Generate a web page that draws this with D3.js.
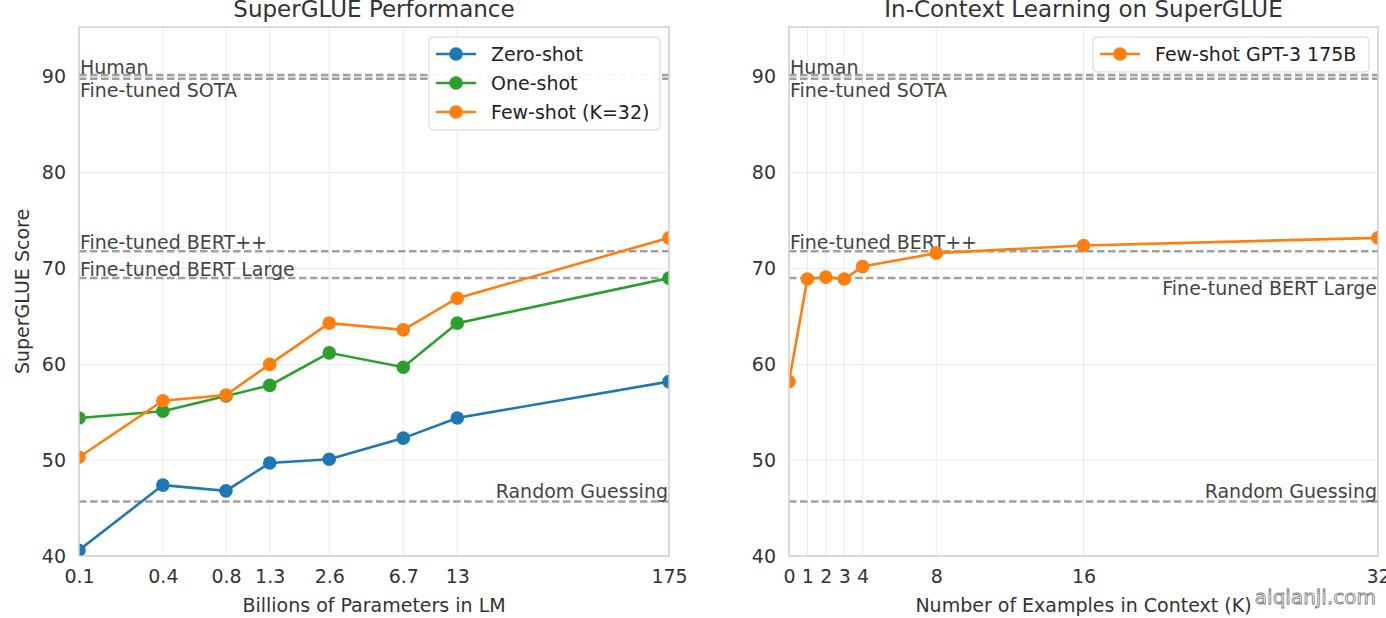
<!DOCTYPE html>
<html>
<head>
<meta charset="utf-8">
<script src="https://cdn.jsdelivr.net/npm/d3@7"></script>
<style>
  body { margin: 0; background: #fff; }
  svg { font-family: "DejaVu Sans", sans-serif; }
  .grid line { stroke: #ebebeb; stroke-width: 1; }
  .tick text { fill: #333; font-size: 19px; }
</style>
</head>
<body>
<div id="container"></div>
<script>
// data
const params = [0.125, 0.35, 0.76, 1.3, 2.7, 6.7, 13, 175];
const paramLabels = ["0.1", "0.4", "0.8", "1.3", "2.6", "6.7", "13", "175"];
const zeroShot = [40.6, 47.4, 46.8, 49.7, 50.1, 52.3, 54.4, 58.2];
const oneShot = [54.4, 55.1, 56.7, 57.8, 61.2, 59.7, 64.3, 69.0];
const fewShot = [50.3, 56.2, 56.8, 60.0, 64.3, 63.6, 66.9, 73.2];

const kShots = [0, 1, 2, 3, 4, 8, 16, 32];
const kScores = [58.2, 68.9, 69.1, 68.9, 70.2, 71.6, 72.4, 73.2];

const yTicks = [40, 50, 60, 70, 80, 90];
const refNames = ["Human", "Fine-tuned SOTA", "Fine-tuned BERT++", "Fine-tuned BERT Large", "Random Guessing"];
const refValues = [90.2, 89.8, 71.8, 69.0, 45.7];

const seriesNames = ["Zero-shot", "One-shot", "Few-shot (K=32)"];
const colors = ["#1f77b4", "#2ca02c", "#ff7f0e"];

// layout
const svgWidth = 1386, svgHeight = 618;
const plotTop = 27, plotBottom = 556;

const svg = d3.select("#container").append("svg")
  .attr("width", svgWidth).attr("height", svgHeight);

const y = d3.scaleLinear().domain([40, 95.2]).range([plotBottom, plotTop]);

function drawPanel(opts) {
  const x = opts.x;
  const [x0, x1] = x.range();
  const g = svg.append("g");

  // clip for marks
  svg.append("clipPath").attr("id", opts.id)
    .append("rect").attr("x", x0).attr("y", plotTop).attr("width", x1 - x0).attr("height", plotBottom - plotTop);

  // grid
  const grid = g.append("g").classed("grid", true);
  grid.selectAll(".v").data(opts.xTicks).enter().append("line")
    .attr("x1", d => x(d)).attr("x2", d => x(d)).attr("y1", plotTop).attr("y2", plotBottom);
  grid.selectAll(".h").data(yTicks).enter().append("line")
    .attr("x1", x0).attr("x2", x1).attr("y1", d => y(d)).attr("y2", d => y(d));

  // axes (labels only)
  const xAxis = d3.axisBottom(x).tickValues(opts.xTicks).tickSize(0).tickPadding(14)
    .tickFormat((d, i) => opts.xLabels[i]);
  g.append("g").attr("transform", `translate(0,${plotBottom})`).call(xAxis)
    .call(a => a.select(".domain").remove());
  const yAxis = d3.axisLeft(y).tickValues(yTicks).tickSize(0).tickPadding(13);
  g.append("g").attr("transform", `translate(${x0},0)`).call(yAxis)
    .call(a => a.select(".domain").remove());
  g.selectAll(".tick text").attr("font-family", "DejaVu Sans");

  // reference lines
  const refs = g.append("g");
  refs.selectAll("line").data(refValues).enter().append("line")
    .attr("x1", x0).attr("x2", x1)
    .attr("y1", d => y(d)).attr("y2", d => y(d))
    .attr("stroke", "#a0a0a0").attr("stroke-width", 2.5).attr("stroke-dasharray", "7.5,3.5");
  refs.selectAll("text").data(refNames).enter().append("text")
    .attr("x", (d, i) => opts.refAnchor[i] === "end" ? x1 - 1 : x0 + 1)
    .attr("y", (d, i) => y(refValues[i]) + opts.refDy[i])
    .attr("text-anchor", (d, i) => opts.refAnchor[i])
    .attr("fill", "#444").attr("font-size", 19)
    .text(d => d);

  // series
  const marks = g.append("g").attr("clip-path", `url(#${opts.id})`);
  const line = d3.line().x(d => x(d[0])).y(d => y(d[1]));
  opts.series.forEach((s, si) => {
    const pts = opts.xs.map((v, i) => [v, s.values[i]]);
    marks.append("path").attr("d", line(pts))
      .attr("fill", "none").attr("stroke", s.color).attr("stroke-width", 2.6);
    marks.selectAll(null).data(pts).enter().append("circle")
      .attr("cx", d => x(d[0])).attr("cy", d => y(d[1])).attr("r", 6.8)
      .attr("fill", s.color);
  });

  // frame
  g.append("rect").attr("x", x0).attr("y", plotTop).attr("width", x1 - x0).attr("height", plotBottom - plotTop)
    .attr("fill", "none").attr("stroke", "#cfcfcf").attr("stroke-width", 1.5);

  // title & axis label
  g.append("text").attr("x", (x0 + x1) / 2).attr("y", 17).attr("text-anchor", "middle")
    .attr("font-size", 23).attr("fill", "#333").text(opts.title);
  g.append("text").attr("x", (x0 + x1) / 2).attr("y", 612).attr("text-anchor", "middle")
    .attr("font-size", 19).attr("fill", "#333").text(opts.xTitle);

  // legend
  const lg = g.append("g").attr("transform", `translate(${opts.legend[0]},${opts.legend[1]})`);
  const rowH = 29;
  lg.append("rect").attr("width", opts.legend[2]).attr("height", opts.series.length * rowH + 6)
    .attr("rx", 4).attr("fill", "#fff").attr("fill-opacity", 0.95)
    .attr("stroke", "#d6d6d6").attr("stroke-width", 1);
  opts.series.forEach((s, i) => {
    const cy = 17 + i * rowH;
    lg.append("line").attr("x1", 7).attr("x2", 47).attr("y1", cy).attr("y2", cy)
      .attr("stroke", s.color).attr("stroke-width", 2.6);
    lg.append("circle").attr("cx", 27).attr("cy", cy).attr("r", 6.8).attr("fill", s.color);
    lg.append("text").attr("x", 62).attr("y", cy + 7).attr("font-size", 19).attr("fill", "#222")
      .text(s.name);
  });
}

drawPanel({
  id: "clipL",
  x: d3.scaleLog().domain([params[0], params[params.length - 1]]).range([79, 669]),
  xs: params, xTicks: params, xLabels: paramLabels,
  series: [zeroShot, oneShot, fewShot].map((v, i) => ({ name: seriesNames[i], values: v, color: colors[i] })),
  refAnchor: ["start", "start", "start", "start", "end"],
  refDy: [-1, 18, -2, -2, -3],
  title: "SuperGLUE Performance",
  xTitle: "Billions of Parameters in LM",
  legend: [429, 37, 231]
});

drawPanel({
  id: "clipR",
  x: d3.scaleLinear().domain([0, 32]).range([789, 1378]),
  xs: kShots, xTicks: kShots, xLabels: kShots.map(String),
  series: [{ name: "Few-shot GPT-3 175B", values: kScores, color: colors[2] }],
  refAnchor: ["start", "start", "start", "end", "end"],
  refDy: [-1, 18, -2, 17, -3],
  title: "In-Context Learning on SuperGLUE",
  xTitle: "Number of Examples in Context (K)",
  legend: [1093, 37, 276]
});

// y axis title
svg.append("text").attr("transform", `translate(29,${(plotTop + plotBottom) / 2}) rotate(-90)`)
  .attr("text-anchor", "middle").attr("font-size", 19).attr("fill", "#333").text("SuperGLUE Score");

// watermark
svg.append("text").attr("x", 1376).attr("y", 604).attr("text-anchor", "end")
  .attr("font-size", 20).attr("fill", "#fff").attr("stroke", "#777").attr("stroke-width", 0.8)
  .text("aiqianji.com");
</script>
</body>
</html>
